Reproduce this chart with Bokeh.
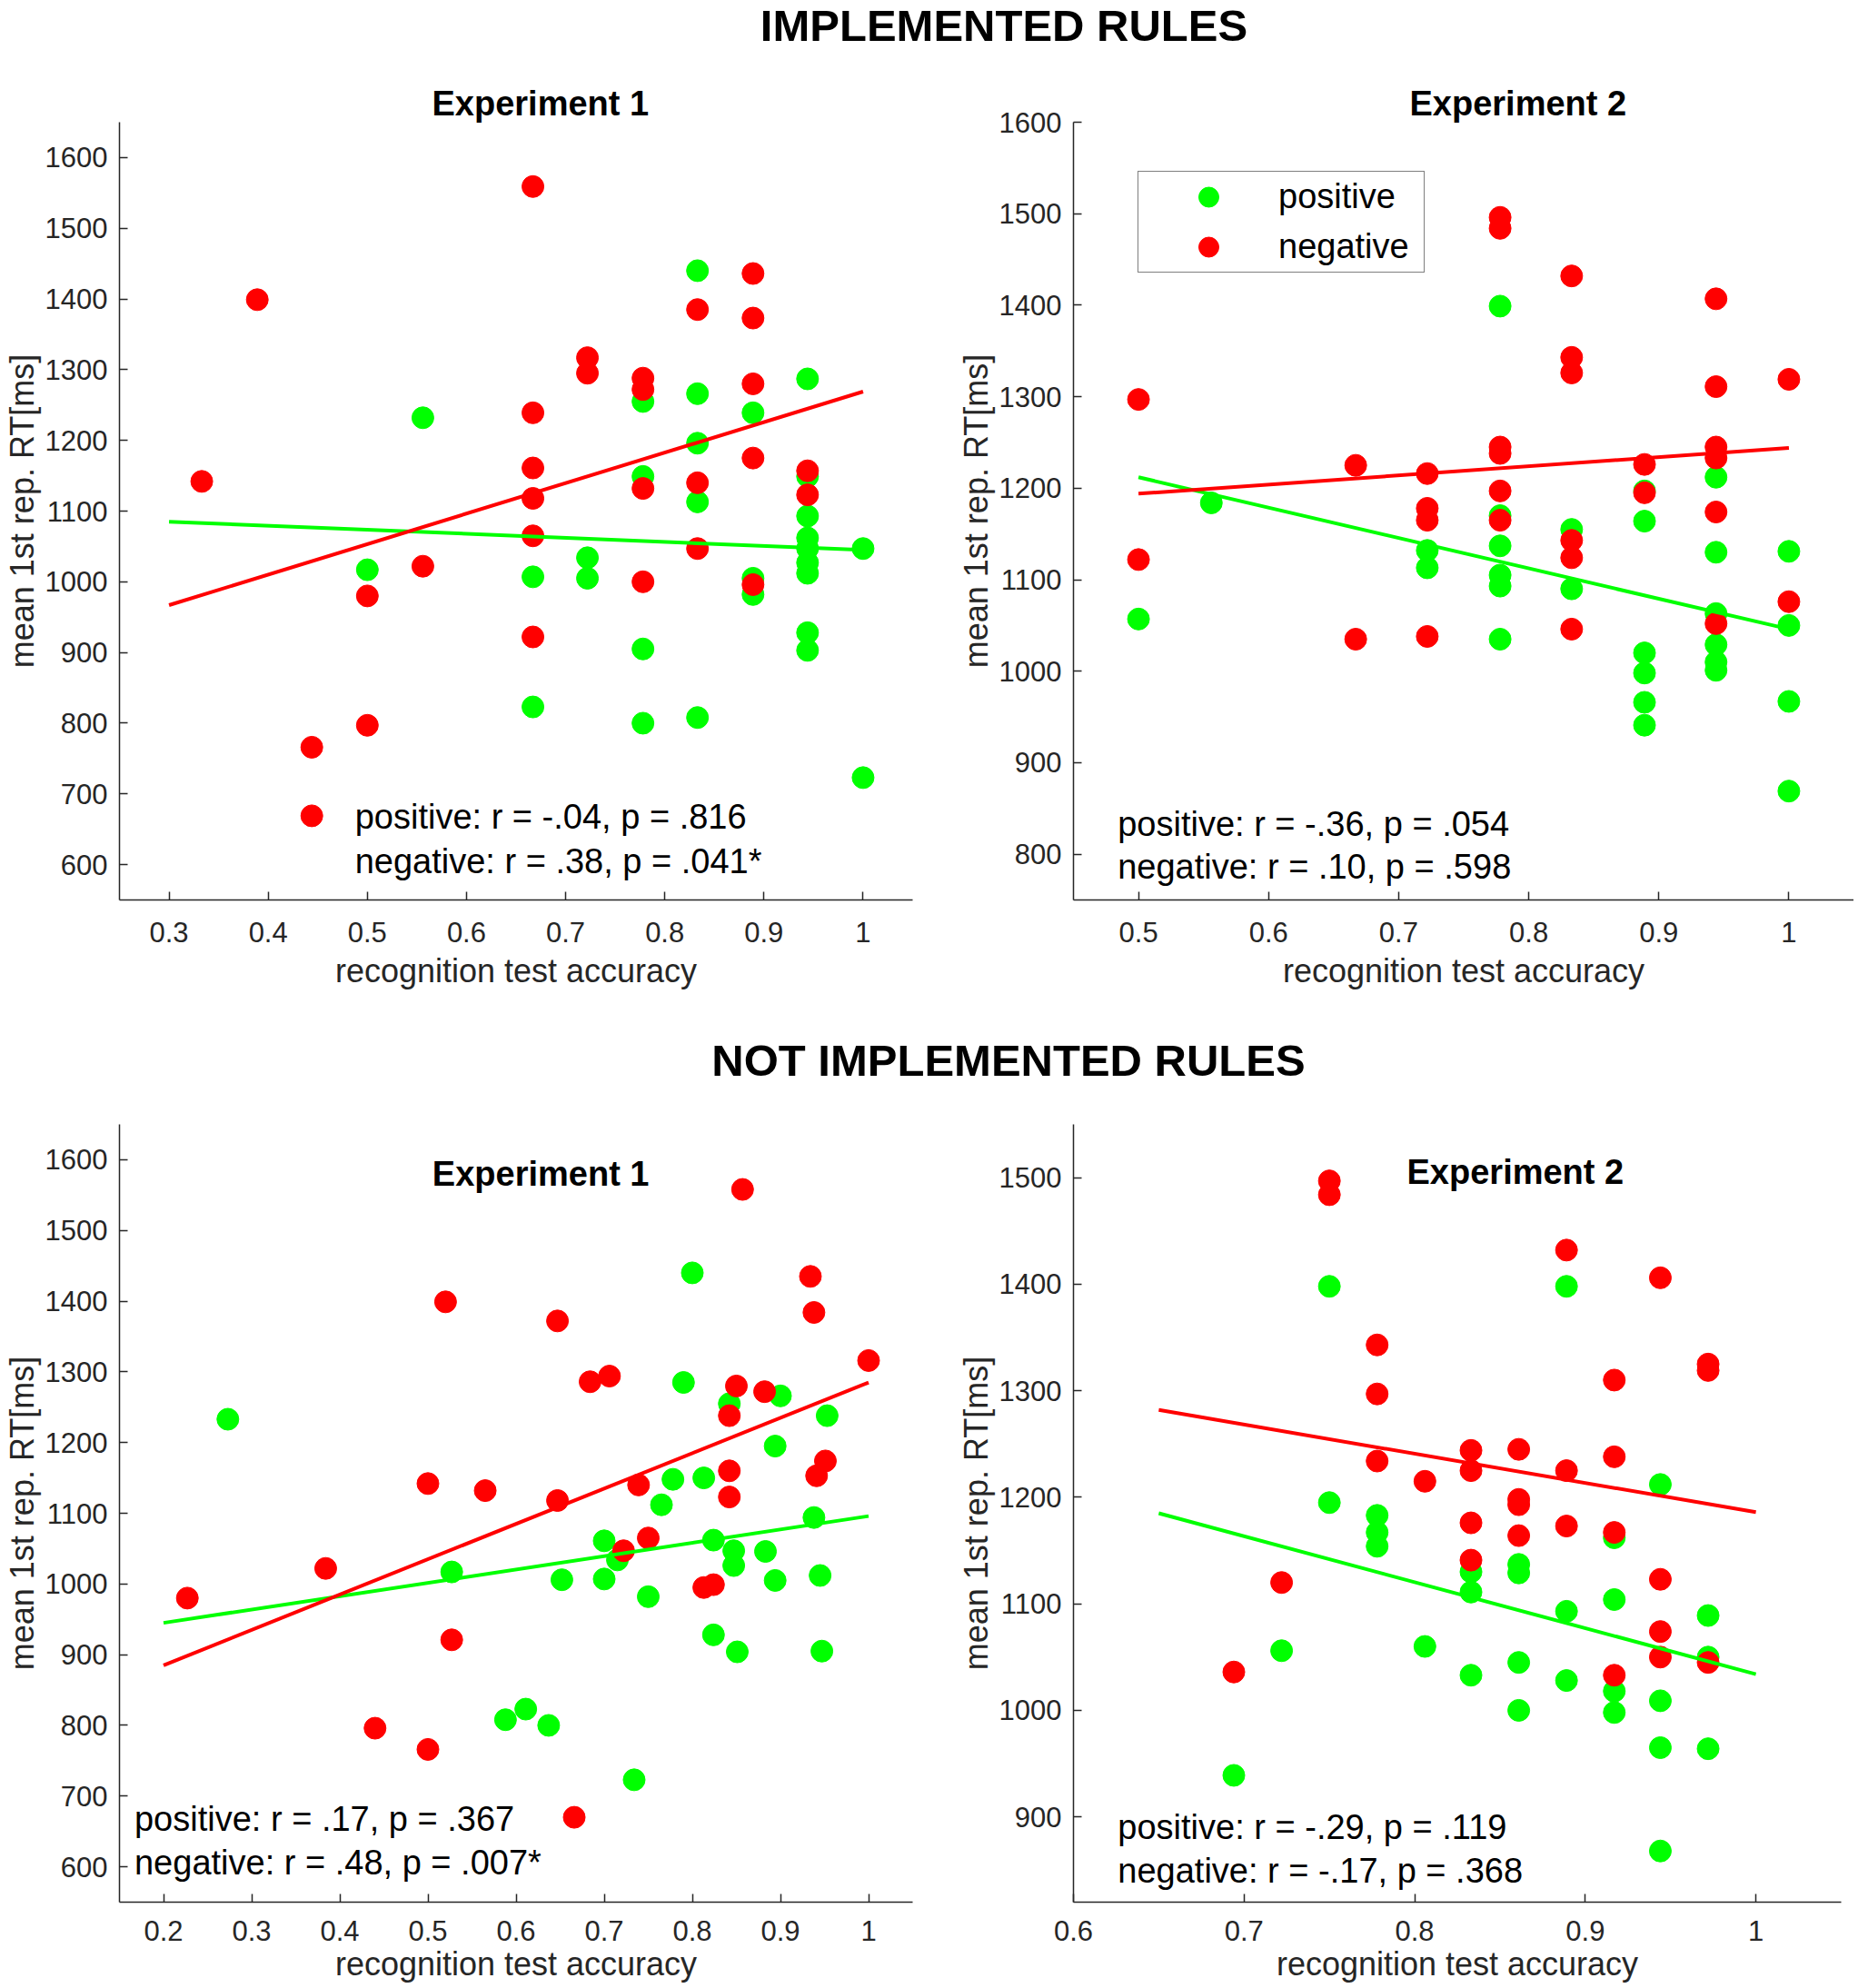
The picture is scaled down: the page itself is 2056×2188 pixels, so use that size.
from bokeh.plotting import figure
from bokeh.models import (Range1d, FixedTicker, CustomJSTickFormatter, Label,
                          Legend, LegendItem, Div)
from bokeh.layouts import column, row
from bokeh.core.properties import value
from bokeh.embed import file_html
from bokeh.resources import INLINE

# ---- data: implemented rules, experiment 1 ----
imp1_pos_x = [0.5, 0.556, 0.667, 0.667, 0.722, 0.722, 0.778, 0.778, 0.778, 0.778,
              0.833, 0.833, 0.833, 0.833, 0.833, 0.889, 0.889, 0.889,
              0.944, 0.944, 0.944, 0.944, 0.944, 0.944, 0.944, 0.944, 0.944, 1.0, 1.0]
imp1_pos_y = [1017, 1232, 1007, 823, 1034, 1005, 1255, 1149, 905, 800,
              1440, 1266, 1196, 1113, 808, 1239, 1005, 982,
              1287, 1149, 1093, 1062, 1047, 1027, 1012, 928, 903, 1047, 723]
imp1_neg_x = [0.333, 0.389, 0.444, 0.444, 0.5, 0.5, 0.556,
              0.667, 0.667, 0.667, 0.667, 0.667, 0.667, 0.722, 0.722,
              0.778, 0.778, 0.778, 0.778, 0.833, 0.833, 0.833,
              0.889, 0.889, 0.889, 0.889, 0.889, 0.944, 0.944]
imp1_neg_y = [1142, 1399, 766, 669, 980, 797, 1022,
              1559, 1239, 1161, 1118, 1065, 922, 1317, 1295,
              1288, 1272, 1132, 1000, 1385, 1140, 1047,
              1436, 1373, 1280, 1175, 996, 1157, 1123]
imp1_fit_x = [0.3, 1.0]
imp1_fit_pos = [1085, 1045]
imp1_fit_neg = [967, 1269]

# ---- data: implemented rules, experiment 2 ----
imp2_pos_x = [0.5, 0.556, 0.722, 0.722, 0.778, 0.778, 0.778, 0.778, 0.778, 0.778,
              0.833, 0.833, 0.889, 0.889, 0.889, 0.889, 0.889, 0.889,
              0.944, 0.944, 0.944, 0.944, 0.944, 0.944, 1.0, 1.0, 1.0, 1.0]
imp2_pos_y = [1057, 1184, 1132, 1113, 1399, 1170, 1137, 1105, 1093, 1035,
              1155, 1090, 1197, 1164, 1020, 998, 966, 941,
              1212, 1130, 1063, 1029, 1010, 1001, 1131, 1050, 967, 869]
imp2_neg_x = [0.5, 0.5, 0.667, 0.667, 0.722, 0.722, 0.722, 0.722,
              0.778, 0.778, 0.778, 0.778, 0.778, 0.778,
              0.833, 0.833, 0.833, 0.833, 0.833, 0.833, 0.889, 0.889,
              0.944, 0.944, 0.944, 0.944, 0.944, 0.944, 1.0, 1.0]
imp2_neg_y = [1297, 1122, 1225, 1035, 1216, 1178, 1165, 1038,
              1496, 1484, 1245, 1238, 1197, 1165,
              1432, 1343, 1326, 1143, 1124, 1046, 1226, 1195,
              1407, 1311, 1245, 1233, 1174, 1052, 1319, 1076]
imp2_fit_x = [0.5, 1.0]
imp2_fit_pos = [1212, 1046]
imp2_fit_neg = [1194, 1244]

# ---- data: not implemented rules, experiment 1 ----
not1_pos_x = [0.273, 0.527, 0.588, 0.611, 0.637, 0.652, 0.700, 0.700, 0.715, 0.734,
              0.750, 0.765, 0.778, 0.790, 0.800, 0.813, 0.824, 0.824, 0.842, 0.847,
              0.847, 0.851, 0.883, 0.894, 0.894, 0.900, 0.938, 0.945, 0.947, 0.953]
not1_pos_y = [1233, 1017, 808, 823, 800, 1006, 1061, 1007, 1034, 723,
              982, 1112, 1148, 1285, 1440, 1150, 1062, 928, 1255, 1047,
              1026, 904, 1046, 1195, 1005, 1266, 1094, 1012, 905, 1238]
not1_neg_x = [0.227, 0.384, 0.440, 0.500, 0.500, 0.520, 0.527, 0.565, 0.647, 0.647,
              0.666, 0.684, 0.706, 0.722, 0.739, 0.750, 0.813, 0.824, 0.842, 0.842,
              0.842, 0.850, 0.857, 0.882, 0.934, 0.938, 0.941, 0.951, 1.0]
not1_neg_y = [980, 1022, 796, 766, 1142, 1399, 921, 1132, 1372, 1118,
              670, 1286, 1294, 1047, 1140, 1065, 995, 999, 1238, 1160,
              1123, 1280, 1558, 1272, 1435, 1384, 1153, 1174, 1316]
not1_fit_x = [0.2, 1.0]
not1_fit_pos = [945, 1096]
not1_fit_neg = [885, 1285]

# ---- data: not implemented rules, experiment 2 ----
not2_pos_x = [0.694, 0.722, 0.75, 0.75, 0.778, 0.778, 0.778, 0.806,
              0.833, 0.833, 0.833, 0.861, 0.861, 0.861, 0.861,
              0.889, 0.889, 0.889, 0.917, 0.917, 0.917, 0.917,
              0.944, 0.944, 0.944, 0.944, 0.972, 0.972, 0.972]
not2_pos_y = [939, 1056, 1398, 1195, 1183, 1167, 1154, 1060,
              1130, 1111, 1033, 1137, 1129, 1045, 1000,
              1398, 1093, 1028, 1162, 1104, 1018, 998,
              1212, 1009, 965, 868, 1089, 1050, 964]
not2_neg_x = [0.694, 0.722, 0.75, 0.75, 0.778, 0.778, 0.778, 0.806,
              0.833, 0.833, 0.833, 0.833, 0.861, 0.861, 0.861, 0.861,
              0.889, 0.889, 0.889, 0.917, 0.917, 0.917, 0.917,
              0.944, 0.944, 0.944, 0.944, 0.972, 0.972, 0.972]
not2_neg_y = [1036, 1120, 1497, 1484, 1343, 1297, 1234, 1215,
              1244, 1225, 1176, 1141, 1245, 1198, 1193, 1164,
              1432, 1225, 1173, 1310, 1238, 1167, 1033,
              1406, 1123, 1074, 1050, 1325, 1319, 1045]
not2_fit_x = [0.65, 1.0]
not2_fit_pos = [1185, 1034]
not2_fit_neg = [1282, 1186]

# ---- tick positions ----
imp1_xticks = [0.3, 0.4, 0.5, 0.6, 0.7, 0.8, 0.9, 1.0]
imp1_yticks = [600, 700, 800, 900, 1000, 1100, 1200, 1300, 1400, 1500, 1600]
imp2_xticks = [0.5, 0.6, 0.7, 0.8, 0.9, 1.0]
imp2_yticks = [800, 900, 1000, 1100, 1200, 1300, 1400, 1500, 1600]
not1_xticks = [0.2, 0.3, 0.4, 0.5, 0.6, 0.7, 0.8, 0.9, 1.0]
not1_yticks = [600, 700, 800, 900, 1000, 1100, 1200, 1300, 1400, 1500, 1600]
not2_xticks = [0.6, 0.7, 0.8, 0.9, 1.0]
not2_yticks = [900, 1000, 1100, 1200, 1300, 1400, 1500]

GREEN = "#00ff00"
RED = "#ff0000"
AXIS = "#262626"
FONT = "Liberation Sans"


def make_panel(width, height, xr, yr, xticks, yticks, borders, tick_gap, label_gap,
               pos_x, pos_y, neg_x, neg_y, fit_x, fit_pos, fit_neg,
               stats, stats_xy):
    p = figure(width=width, height=height, title=None,
               x_range=Range1d(*xr), y_range=Range1d(*yr),
               output_backend="svg", toolbar_location=None,
               min_border_top=borders[0], min_border_right=borders[1],
               min_border_bottom=borders[2], min_border_left=borders[3])
    p.grid.visible = False
    p.outline_line_color = None
    p.background_fill_color = "white"
    p.border_fill_color = "white"

    # matlab-like axes: inward ticks, no box
    for ax in (p.xaxis[0], p.yaxis[0]):
        ax.axis_line_color = AXIS
        ax.axis_line_width = 1.5
        ax.major_tick_line_color = AXIS
        ax.major_tick_line_width = 1.5
        ax.major_tick_in = 9
        ax.major_tick_out = 0
        ax.minor_tick_line_color = None
        ax.major_label_text_font = FONT
        ax.major_label_text_font_size = "31px"
        ax.major_label_text_color = AXIS
        ax.axis_label_text_font = FONT
        ax.axis_label_text_font_size = "36px"
        ax.axis_label_text_font_style = "normal"
        ax.axis_label_text_color = AXIS
    p.xaxis.ticker = FixedTicker(ticks=xticks)
    p.yaxis.ticker = FixedTicker(ticks=yticks)
    p.xaxis.formatter = CustomJSTickFormatter(code="return String(Math.round(tick*10)/10)")
    p.xaxis.major_label_standoff = tick_gap
    p.yaxis.major_label_standoff = 13
    p.xaxis.axis_label_standoff = label_gap
    p.yaxis.axis_label_standoff = 2
    p.xaxis.axis_label = "recognition test accuracy"
    p.yaxis.axis_label = "mean 1st rep. RT[ms]"

    g = p.scatter(pos_x, pos_y, size=24, marker="circle",
                  fill_color=GREEN, line_color=GREEN)
    r = p.scatter(neg_x, neg_y, size=24, marker="circle",
                  fill_color=RED, line_color=RED)
    p.line(fit_x, fit_pos, line_color=GREEN, line_width=4)
    p.line(fit_x, fit_neg, line_color=RED, line_width=4)

    p.text(x=[stats_xy[0], stats_xy[0]], y=[stats_xy[1], stats_xy[2]], text=stats,
           text_font=value(FONT), text_font_size="38px", text_color="black",
           text_baseline="alphabetic", text_align="left")
    return p, g, r


def top_title(p, text, offset):
    # title above the frame, left aligned with a pixel offset
    p.title = text
    p.title.text_font = FONT
    p.title.text_font_style = "bold"
    p.title.text_font_size = "38px"
    p.title.text_color = "black"
    p.title.align = "left"
    p.title.offset = offset
    p.title.standoff = 0


def inner_title(p, text, x, y):
    p.add_layout(Label(x=x, y=y, text=text,
                       text_font=FONT, text_font_style="bold",
                       text_font_size="38px", text_color="black",
                       text_align="center", text_baseline="alphabetic"))


p1, _, _ = make_panel(1040, 1023, (0.25, 1.05), (550, 1650), imp1_xticks, imp1_yticks,
                      (60, 36, 107, 125), 24, 8,
                      imp1_pos_x, imp1_pos_y, imp1_neg_x, imp1_neg_y,
                      imp1_fit_x, imp1_fit_pos, imp1_fit_neg,
                      ["positive: r = -.04, p = .816", "negative: r = .38, p = .041*"],
                      (0.4875, 667, 605))
top_title(p1, "Experiment 1", 344)

p2, g2, r2 = make_panel(1000, 1023, (0.45, 1.05), (750, 1600), imp2_xticks, imp2_yticks,
                        (60, 0, 107, 141), 24, 8,
                        imp2_pos_x, imp2_pos_y, imp2_neg_x, imp2_neg_y,
                        imp2_fit_x, imp2_fit_pos, imp2_fit_neg,
                        ["positive: r = -.36, p = .054", "negative: r = .10, p = .598"],
                        (0.484, 833, 786))
top_title(p2, "Experiment 2", 370)

# legend box in the upper left of experiment 2
legend = Legend(items=[LegendItem(label="positive", renderers=[g2]),
                       LegendItem(label="negative", renderers=[r2])],
                location=(71, 690), orientation="vertical",
                glyph_width=154, glyph_height=55, spacing=0, padding=0, margin=0,
                label_standoff=0, label_width=160,
                label_text_font=FONT, label_text_font_size="38px", label_text_color="black",
                border_line_color="black", border_line_width=1.5,
                background_fill_color="white", background_fill_alpha=1)
p2.add_layout(legend)

p3, _, _ = make_panel(1040, 963, (0.15, 1.05), (550, 1650), not1_xticks, not1_yticks,
                      (10, 36, 97, 125), 20, 2,
                      not1_pos_x, not1_pos_y, not1_neg_x, not1_neg_y,
                      not1_fit_x, not1_fit_pos, not1_fit_neg,
                      ["positive: r = .17, p = .367", "negative: r = .48, p = .007*"],
                      (0.167, 667, 606))
inner_title(p3, "Experiment 1", 0.628, 1580)

p4, _, _ = make_panel(1000, 963, (0.6, 1.05), (820, 1550), not2_xticks, not2_yticks,
                      (10, 14, 97, 141), 20, 2,
                      not2_pos_x, not2_pos_y, not2_neg_x, not2_neg_y,
                      not2_fit_x, not2_fit_pos, not2_fit_neg,
                      ["positive: r = -.29, p = .119", "negative: r = -.17, p = .368"],
                      (0.626, 890, 849))
inner_title(p4, "Experiment 2", 0.859, 1505)

head_style = ("font-family:'Liberation Sans',Arial,sans-serif;font-weight:bold;"
              "font-size:49px;line-height:50px;text-align:center;white-space:nowrap;"
              "box-sizing:border-box;width:2040px;")
head1 = Div(text='<div style="%s padding-left:160px;margin-top:-2px;">'
                 'IMPLEMENTED RULES</div>' % head_style, width=2040, height=64)
head2 = Div(text='<div style="%s padding-left:170px;padding-top:40px;">'
                 'NOT IMPLEMENTED RULES</div>' % head_style, width=2040, height=120)

layout = column(head1, row(p1, p2), head2, row(p3, p4))

open("out.html", "w").write(file_html(layout, INLINE))
